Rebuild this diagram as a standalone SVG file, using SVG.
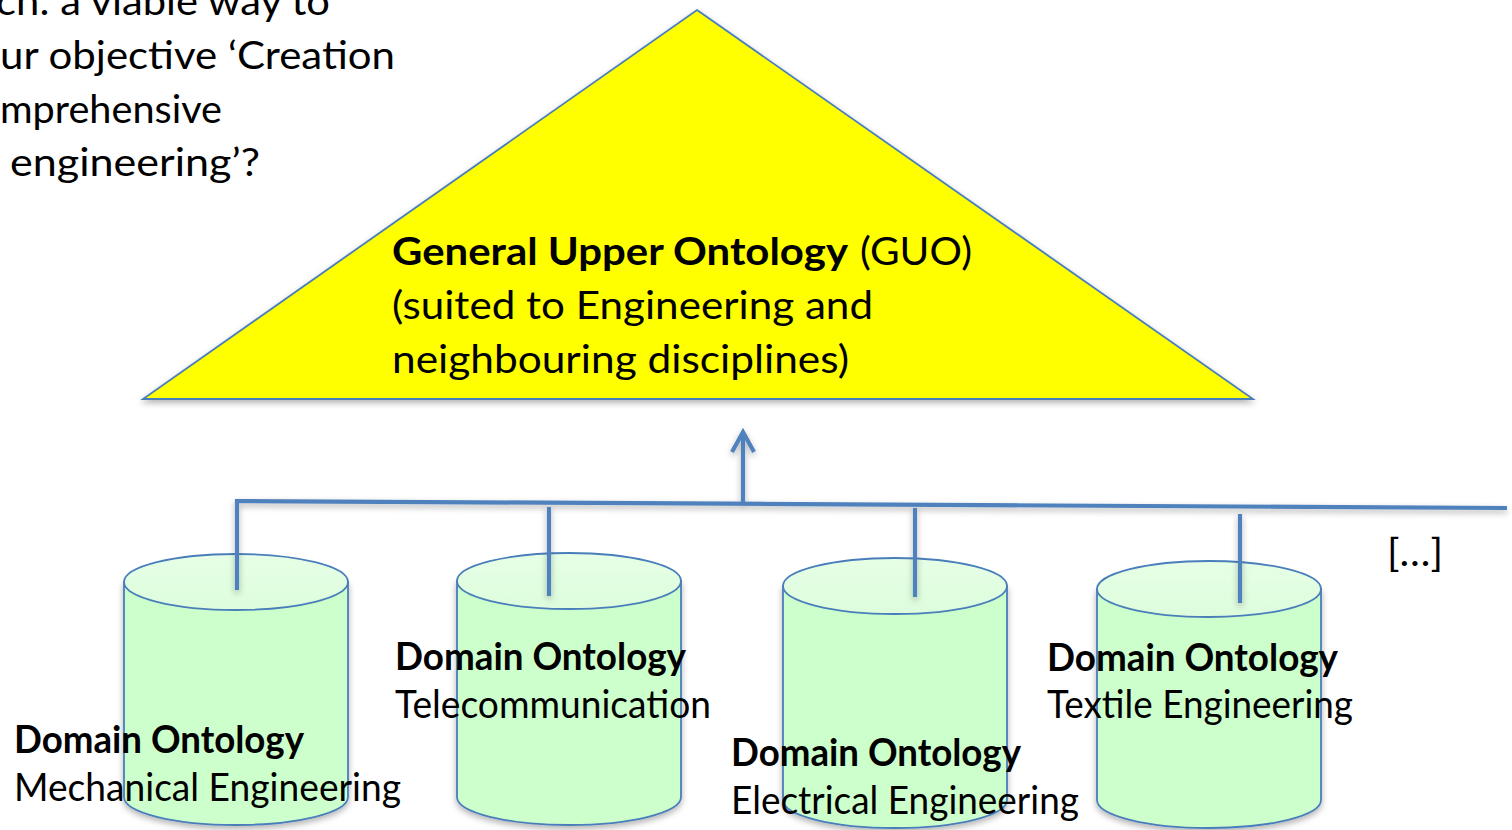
<svg xmlns="http://www.w3.org/2000/svg" width="1512" height="830" viewBox="0 0 1512 830">
<defs>
<filter id="sh" x="-10%" y="-10%" width="120%" height="130%">
<feDropShadow dx="0" dy="3" stdDeviation="3" flood-color="#000" flood-opacity="0.3"/>
</filter>
<linearGradient id="topg" x1="0" y1="0" x2="0" y2="1">
<stop offset="0" stop-color="#E6FFE6"/>
<stop offset="1" stop-color="#DDFDDD"/>
</linearGradient>
</defs>
<style>
text{font-family:Lato,"Open Sans","Liberation Sans",sans-serif;font-size:38px;fill:#000}
.b{font-weight:bold}
.body{fill:#CCFFCC;stroke:#4A7EBB;stroke-width:1.8}
.top{fill:url(#topg);stroke:#4A7EBB;stroke-width:1.8}
.con{fill:none;stroke:#4F81BD;stroke-width:4.2;stroke-linecap:butt;stroke-linejoin:miter}
</style>
<rect width="1512" height="830" fill="#fff"/>
<g id="question">
<text x="-4" y="15" textLength="334" lengthAdjust="spacingAndGlyphs">ch: a viable way to</text>
<text x="0" y="69" textLength="395" lengthAdjust="spacingAndGlyphs">ur objective ‘Creation</text>
<text x="0" y="123" textLength="222" lengthAdjust="spacingAndGlyphs">mprehensive</text>
<text x="10" y="176" textLength="250" lengthAdjust="spacingAndGlyphs">engineering’?</text>
</g>
<g id="guo">
<polygon points="697,10 1253,399 143,399" fill="#FFFF00" stroke="#4A7EBB" stroke-width="1.8" filter="url(#sh)"/>
<text y="265"><tspan class="b" x="392" textLength="456" lengthAdjust="spacingAndGlyphs">General Upper Ontology</tspan><tspan x="860" textLength="112" lengthAdjust="spacingAndGlyphs">(GUO)</tspan></text>
<text x="392" y="319" textLength="481" lengthAdjust="spacingAndGlyphs">(suited to Engineering and</text>
<text x="392" y="373" textLength="457" lengthAdjust="spacingAndGlyphs">neighbouring disciplines)</text>
</g>
<g id="mech">
<path class="body" filter="url(#sh)" d="M124,582 L124,797 A112,28 0 0 0 348,797 L348,582 Z"/>
<ellipse class="top" cx="236" cy="582" rx="112" ry="28"/>
<text class="b" x="14" y="753" textLength="290" lengthAdjust="spacingAndGlyphs">Domain Ontology</text>
<text x="14" y="801" textLength="387" lengthAdjust="spacingAndGlyphs">Mechanical Engineering</text>
</g>
<g id="telecom">
<path class="body" filter="url(#sh)" d="M457,581 L457,797 A112,28 0 0 0 681,797 L681,581 Z"/>
<ellipse class="top" cx="569" cy="581" rx="112" ry="28"/>
<text class="b" x="395" y="670" textLength="291" lengthAdjust="spacingAndGlyphs">Domain Ontology</text>
<text x="395" y="718" textLength="316" lengthAdjust="spacingAndGlyphs">Telecommunication</text>
</g>
<g id="electrical">
<path class="body" filter="url(#sh)" d="M783,586 L783,800 A112,28 0 0 0 1007,800 L1007,586 Z"/>
<ellipse class="top" cx="895" cy="586" rx="112" ry="28"/>
<text class="b" x="731" y="766" textLength="290" lengthAdjust="spacingAndGlyphs">Domain Ontology</text>
<text x="731" y="814" textLength="348" lengthAdjust="spacingAndGlyphs">Electrical Engineering</text>
</g>
<g id="textile">
<path class="body" filter="url(#sh)" d="M1097,589 L1097,800 A112,28 0 0 0 1321,800 L1321,589 Z"/>
<ellipse class="top" cx="1209" cy="589" rx="112" ry="28"/>
<text class="b" x="1047" y="671" textLength="291" lengthAdjust="spacingAndGlyphs">Domain Ontology</text>
<text x="1047" y="718" textLength="306" lengthAdjust="spacingAndGlyphs">Textile Engineering</text>
</g>
<g id="more">
<text x="1387" y="566" textLength="56" lengthAdjust="spacingAndGlyphs">[…]</text>
</g>
<g id="connectors" filter="url(#sh)">
<path class="con" d="M237,590 L237,501 L1507,508"/>
<path class="con" d="M549,507 L549,596"/>
<path class="con" d="M915,508 L915,597"/>
<path class="con" d="M1240,514 L1240,603"/>
<path class="con" d="M743,503 L743,433"/>
<path class="con" d="M732,452 L743,432 L754,452" stroke-linecap="round" stroke-linejoin="round"/>
</g>
</svg>
